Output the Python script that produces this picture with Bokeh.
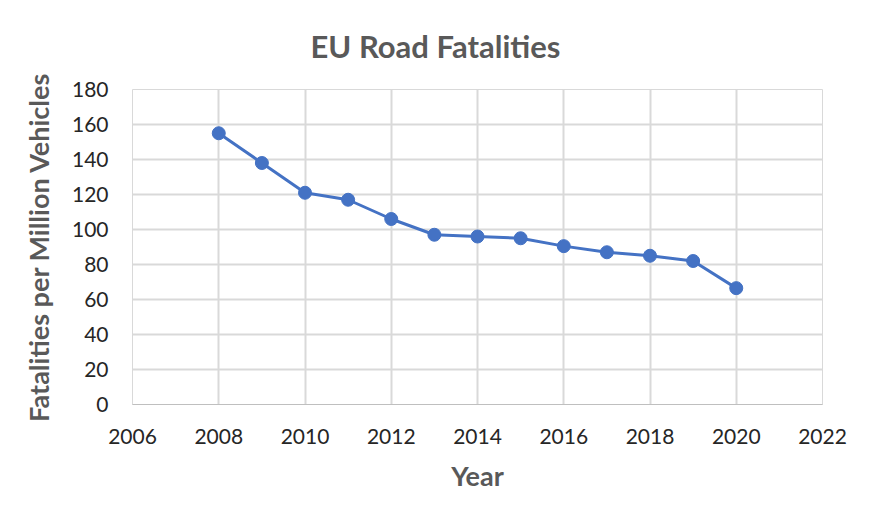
from bokeh.plotting import figure
from bokeh.embed import file_html
from bokeh.resources import INLINE
from bokeh.models import Range1d, FixedTicker

years = [2008, 2009, 2010, 2011, 2012, 2013, 2014, 2015, 2016, 2017, 2018, 2019, 2020]
fatalities = [155, 138, 121, 117, 106, 97, 96, 95, 90.5, 87, 85, 82, 66.5]
x_ticks = [2006, 2008, 2010, 2012, 2014, 2016, 2018, 2020, 2022]
y_ticks = [0, 20, 40, 60, 80, 100, 120, 140, 160, 180]

FONT = "Lato"
GRID = "#d9d9d9"
BLUE = "#4472C4"

p = figure(width=854, height=502, output_backend="svg", toolbar_location=None,
           x_range=Range1d(2006, 2022), y_range=Range1d(0, 180),
           title="EU Road Fatalities")
p.min_border_left = 132
p.min_border_right = 32
p.min_border_top = 89
p.min_border_bottom = 98

p.title.align = "left"
p.title.text_font = FONT
p.title.text_font_size = "31px"
p.title.text_font_style = "bold"
p.title.text_color = "#595959"
p.title.offset = 178
p.title.standoff = 49

p.outline_line_color = GRID
p.background_fill_color = "white"
p.border_fill_color = "white"

p.xaxis.ticker = FixedTicker(ticks=x_ticks)
p.yaxis.ticker = FixedTicker(ticks=y_ticks)
for ax in (p.xaxis, p.yaxis):
    ax.major_tick_line_color = None
    ax.minor_tick_line_color = None
    ax.major_label_text_font = FONT
    ax.major_label_text_font_size = "21px"
    ax.major_label_text_color = "#262626"
    ax.axis_label_text_font = FONT
    ax.axis_label_text_font_size = "27px"
    ax.axis_label_text_font_style = "bold"
    ax.axis_label_text_color = "#595959"
p.xaxis.axis_line_color = "#bfbfbf"
p.yaxis.axis_line_color = None
p.xaxis.major_label_standoff = 18
p.yaxis.major_label_standoff = 18
p.xaxis.axis_label = "Year"
p.yaxis.axis_label = "Fatalities per Million Vehicles"
p.xaxis.axis_label_standoff = 12
p.yaxis.axis_label_standoff = 14

p.xgrid.ticker = FixedTicker(ticks=x_ticks)
p.ygrid.ticker = FixedTicker(ticks=y_ticks)
p.grid.grid_line_color = GRID
p.grid.grid_line_width = 2

p.line(years, fatalities, line_color=BLUE, line_width=3)
p.scatter(years, fatalities, size=13, fill_color=BLUE, line_color=BLUE)

open("out.html", "w").write(file_html(p, INLINE))
